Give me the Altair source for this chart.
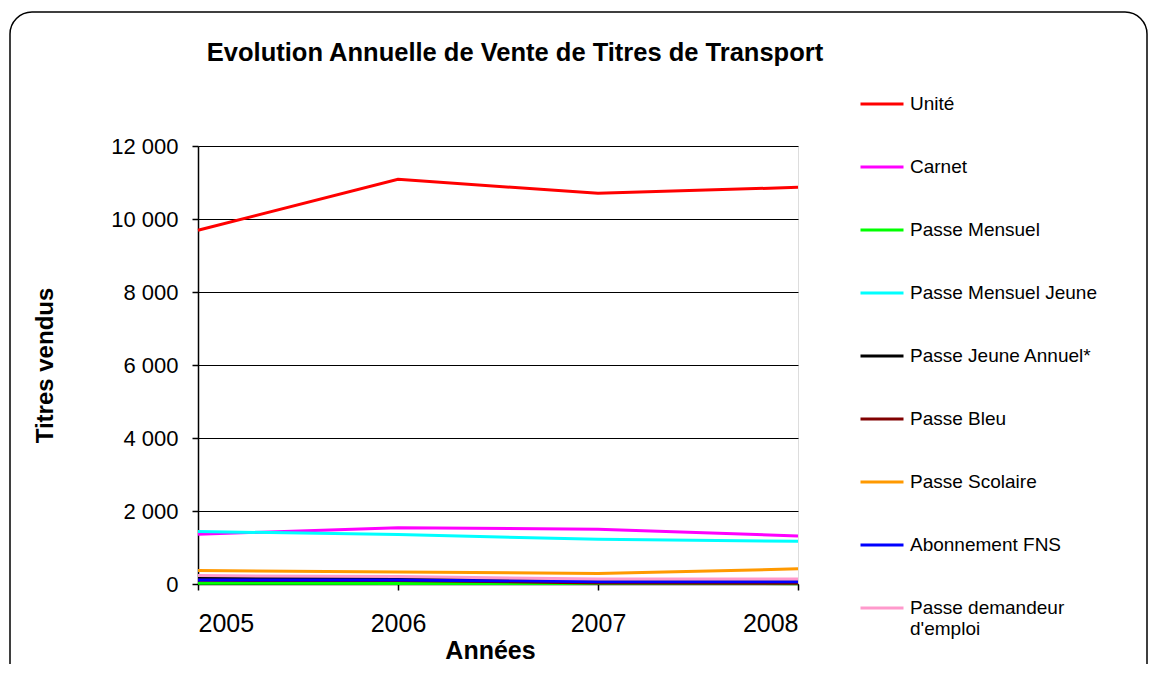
import altair as alt
import pandas as pd

years = [2005, 2006, 2007, 2008]
series_names = ["Unité", "Carnet", "Passe Mensuel", "Passe Mensuel Jeune",
                "Passe Jeune Annuel*", "Passe Bleu", "Passe Scolaire",
                "Abonnement FNS", "Passe demandeur d'emploi"]
unite = [9690, 11087, 10703, 10868]
carnet = [1364, 1539, 1502, 1318]
passe_mensuel = [20, 15, 12, 10]
passe_mensuel_jeune = [1438, 1355, 1226, 1171]
passe_jeune_annuel = [166, 160, 62, 60]
passe_bleu = [100, 95, 30, 20]
passe_scolaire = [369, 332, 286, 415]
abonnement_fns = [111, 111, 65, 65]
passe_demandeur = [230, 203, 138, 138]
colors = ["#FF0000", "#FF00FF", "#00FF00", "#00FFFF", "#000000",
          "#800000", "#FF9900", "#0000FF", "#FF99CC"]

all_values = [unite, carnet, passe_mensuel, passe_mensuel_jeune, passe_jeune_annuel,
              passe_bleu, passe_scolaire, abonnement_fns, passe_demandeur]
rows = []
for name, vals in zip(series_names, all_values):
    for y, v in zip(years, vals):
        rows.append({"Année": y, "Titres": v, "Série": name})
df = pd.DataFrame(rows)

FONT = "Liberation Sans"

border = alt.Chart(pd.DataFrame({"k": [0]})).mark_rect(
    fill=None, stroke="#000000", strokeWidth=1.5, cornerRadius=22, clip=False
).encode(
    x=alt.value(-188), x2=alt.value(949), y=alt.value(-134), y2=alt.value(560)
)

lines = alt.Chart(df).mark_line(strokeWidth=3).encode(
    x=alt.X("Année:Q",
            scale=alt.Scale(domain=[2005, 2008], nice=False, zero=False),
            axis=alt.Axis(title="Années", values=years, format="d",
                          grid=False, labelFontSize=25, labelFont=FONT,
                          labelPadding=21, tickSize=6, tickColor="#000000",
                          tickWidth=1.5, domainColor="#000000", domainWidth=1.5,
                          titleFontSize=25, titleFont=FONT, titleFontWeight="bold",
                          titleX=292, titleY=66, titleBaseline="middle",
                          titleAnchor="start", titleAlign="center",
                          labelColor="#000000", titleColor="#000000")),
    y=alt.Y("Titres:Q",
            scale=alt.Scale(domain=[0, 12000], nice=False),
            axis=alt.Axis(title="Titres vendus", values=list(range(0, 12001, 2000)),
                          labelExpr="replace(format(datum.value, ','), ',', ' ')",
                          grid=True, gridColor="#000000", gridWidth=1.2,
                          labelFontSize=22, labelFont=FONT, labelPadding=14,
                          tickSize=6, tickColor="#000000", tickWidth=1.5,
                          domainColor="#000000", domainWidth=1.5,
                          titleFontSize=24, titleFont=FONT, titleFontWeight="bold",
                          titleAngle=270, titleX=-153, titleY=219,
                          titleBaseline="middle", titleAlign="center",
                          titleAnchor="start",
                          labelColor="#000000", titleColor="#000000")),
    color=alt.Color("Série:N",
                    scale=alt.Scale(domain=series_names, range=colors),
                    sort=series_names,
                    legend=alt.Legend(
                        title=None, orient="none", legendX=661, legendY=-65,
                        symbolType="stroke", symbolSize=1849, symbolStrokeWidth=3,
                        labelFontSize=19, labelFont=FONT, labelColor="#000000",
                        rowPadding=30, labelOffset=5, labelLimit=300,
                        labelExpr="datum.label == \"Passe demandeur d'emploi\" ? ['Passe demandeur', \"d'emploi\"] : datum.label")),
    detail="Série:N",
)

chart = alt.layer(border, lines).properties(
    width=600, height=438,
    autosize=alt.AutoSizeParams(type="none"),
    padding={"left": 190, "top": 138, "right": 350, "bottom": 80},
    title=alt.TitleParams(
        "Evolution Annuelle de Vente de Titres de Transport",
        fontSize=25.5, font=FONT, fontWeight="bold", anchor="middle",
        frame="group", dx=17, offset=-55, color="#000000"),
).configure_view(stroke="#808080", strokeWidth=1.5).configure(background="#FFFFFF")

chart.save("out.html", embed_options={"renderer": "svg", "actions": False})
